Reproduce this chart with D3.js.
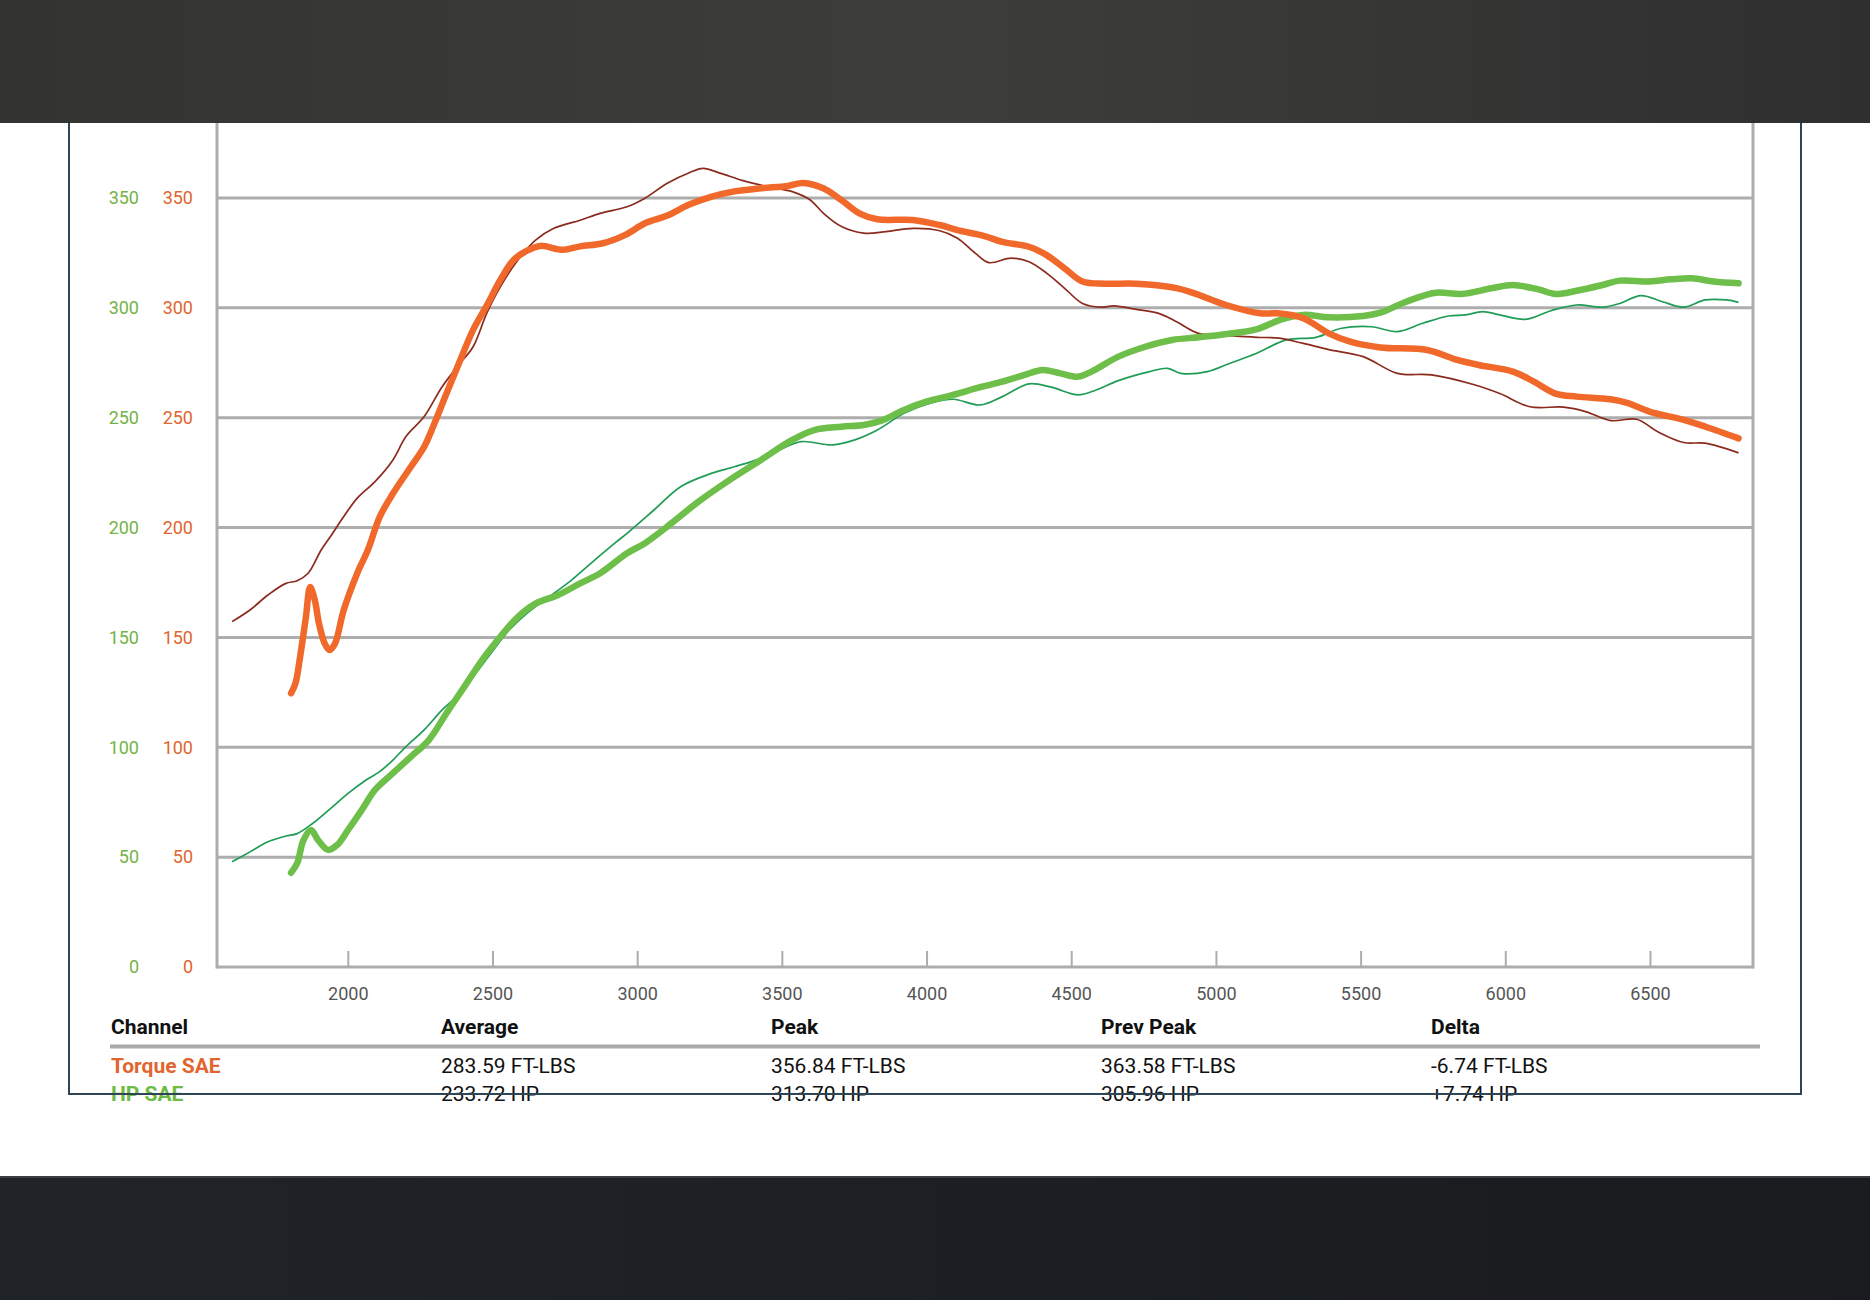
<!DOCTYPE html>
<html>
<head>
<meta charset="utf-8">
<script src="https://cdn.jsdelivr.net/npm/d3@7"></script>
<style>
  html, body { margin: 0; padding: 0; background: #ffffff; }
  svg { display: block; }
  text { font-family: Roboto, "Noto Sans", "DejaVu Sans", sans-serif; }
</style>
</head>
<body>
<svg id="chart" width="1870" height="1300"></svg>
<script>
// ---------------- DATA ----------------
const xTicks = [2000, 2500, 3000, 3500, 4000, 4500, 5000, 5500, 6000, 6500];
const yTicks = [0, 50, 100, 150, 200, 250, 300, 350];

// Current torque (thick orange)
const torqueRpm = [1804,1819,1835,1855,1870,1886,1901,1921,1937,1955,1986,2032,2070,2110,2156,2218,2264,2295,2341,2388,2433,2480,2527,2573,2619,2665,2743,2803,2882,2959,3027,3104,3180,3258,3336,3428,3521,3574,3643,3706,3768,3830,3953,4045,4107,4200,4262,4354,4415,4477,4539,4617,4724,4864,4926,5035,5154,5213,5302,5390,5464,5568,5730,5834,5908,6026,6099,6173,6247,6364,6424,6498,6617,6690,6806];
const torqueVal = [124.6,129,141,159,173,167,156,147,144.3,147,162.5,179,190,204.8,215.5,227.7,236.8,246,261,276,290,301,312.7,321.8,326,328.2,326.4,328,329.4,333.2,338.5,342,347,350.6,353,354.4,355.5,356.8,354.4,349,343,340.3,340,337.7,335.4,332.7,330,327.8,324,318,312,311,311,309,306.6,301.3,297.5,297.5,295.3,288.4,284.6,282,280.8,276.3,274,271,266.4,261,259.6,258.4,256.6,252.8,249,246,240.6];

// Previous torque (thin dark red)
const prevTorqueRpm = [1600,1662,1724,1786,1825,1863,1908,1940,1986,2032,2094,2156,2201,2264,2326,2388,2433,2480,2527,2588,2650,2712,2803,2872,2965,3027,3104,3180,3227,3289,3366,3459,3536,3598,3644,3706,3783,3860,3953,4046,4107,4169,4215,4292,4354,4416,4477,4539,4601,4648,4725,4802,4864,4940,5033,5141,5219,5302,5390,5509,5627,5745,5893,5981,6085,6202,6277,6365,6454,6527,6617,6690,6806];
const prevTorqueVal = [157.2,162.5,169.3,174.6,175.8,179.2,189.8,195.9,205,213.3,220.9,230.8,241.4,250.5,264.1,274.8,282.3,297.5,309.6,321.8,330.9,336.2,339.9,343,346,349.9,356.7,361.5,363.5,361.2,357.9,354.9,352.9,349.1,343,337,334,334.7,336.2,335.1,331.7,324.8,320.6,322.6,321,315.7,308.9,302,300.3,300.9,299.3,297.5,293.7,288.4,287.5,286.6,286.2,283.8,281,277.8,270.2,269.5,265,261,255,254.8,252.8,248.7,249.3,243.6,238.7,238.4,234];

// Current HP (thick green)
const hpRpm = [1804,1825,1847,1873,1897,1932,1963,2001,2048,2094,2156,2218,2280,2341,2403,2464,2527,2588,2650,2727,2803,2872,2965,3027,3119,3212,3320,3428,3536,3612,3706,3783,3844,3922,3999,4092,4185,4262,4339,4401,4462,4524,4570,4663,4756,4848,4940,5033,5139,5227,5302,5390,5509,5568,5657,5760,5849,5952,6026,6114,6173,6247,6336,6395,6498,6572,6645,6720,6806];
const hpVal = [42.9,47.2,57.8,62.4,57.8,53.3,55.5,62.4,71.4,80.6,88.2,95.7,103.3,115.5,127.6,139.7,150.3,159.4,165.5,169.3,174.6,179.2,188.3,192.9,202,211.8,221.7,230.8,239.9,244.4,245.9,246.7,248.7,253.5,257.3,260.4,263.9,266.4,269.5,271.7,270.2,268.7,271,277.8,282.3,285.4,286.6,288,290.2,294.8,296.8,295.7,296.3,297.8,302.8,306.9,306.3,308.9,310.4,308.4,306.3,307.8,310.4,312.4,312,313,313.5,312,311.2];

// Previous HP (thin green)
const prevHpRpm = [1600,1662,1724,1786,1825,1878,1940,2001,2063,2110,2156,2201,2264,2326,2388,2433,2495,2558,2619,2696,2772,2851,2928,2965,3058,3150,3242,3336,3412,3490,3567,3675,3752,3830,3922,4013,4092,4185,4262,4354,4431,4524,4586,4663,4771,4833,4879,4971,5049,5141,5243,5346,5434,5538,5627,5715,5804,5863,5922,5981,6070,6158,6247,6336,6395,6469,6543,6617,6690,6764,6806];
const prevHpVal = [47.9,52.4,57,59.6,60.7,65.3,72.1,79,85.1,88.9,94.2,100.3,107.9,117,124.6,132.1,142.8,153.4,161,168.5,176,185,193.5,197.4,208,218.6,224,227.7,230.8,235.3,239.1,237.6,239.9,244.4,252,256.6,258.4,255.8,259.6,265.4,263.9,260.4,262.6,266.9,271,272.5,270.2,271,274.8,279.3,285.4,286.6,290.7,291.4,289.2,293,296.3,296.8,298.3,296.8,294.8,298.7,301.3,300.3,302,305.6,302.8,300.3,303.6,303.6,302.5];

// Summary table
const tableColumns = ["Channel", "Average", "Peak", "Prev Peak", "Delta"];
const tableChannels = ["Torque SAE", "HP SAE"];
const tableAverage = ["283.59 FT-LBS", "233.72 HP"];
const tablePeak = ["356.84 FT-LBS", "313.70 HP"];
const tablePrevPeak = ["363.58 FT-LBS", "305.96 HP"];
const tableDelta = ["-6.74 FT-LBS", "+7.74 HP"];

// ---------------- DRAW ----------------
const svg = d3.select("#chart");
const W = 1870, H = 1300;

const C = {
  orange: "#f0692b", darkRed: "#8b2b1d", green: "#6dbf4a", thinGreen: "#1f9c55",
  labelGreen: "#74b347", labelOrange: "#e0652f", grid: "#adadad", frame: "#2e4556"
};

const x = d3.scaleLinear().domain([1548, 6856]).range([217, 1753]);
const y = d3.scaleLinear().domain([0, 350]).range([967, 198]);

const defs = svg.append("defs");
const gTop = defs.append("linearGradient").attr("id", "gTop");
gTop.append("stop").attr("offset", "0%").attr("stop-color", "#333331");
gTop.append("stop").attr("offset", "50%").attr("stop-color", "#3d3d3b");
gTop.append("stop").attr("offset", "100%").attr("stop-color", "#2f2f2f");
const gBot = defs.append("linearGradient").attr("id", "gBot");
gBot.append("stop").attr("offset", "0%").attr("stop-color", "#202328");
gBot.append("stop").attr("offset", "50%").attr("stop-color", "#1c1f23");
gBot.append("stop").attr("offset", "100%").attr("stop-color", "#191b1e");

svg.append("rect").attr("width", W).attr("height", H).attr("fill", "#ffffff");

// gridlines (including baseline)
svg.append("g").selectAll("line").data(yTicks).join("line")
  .attr("x1", x.range()[0]).attr("x2", x.range()[1])
  .attr("y1", d => y(d)).attr("y2", d => y(d))
  .attr("stroke", C.grid).attr("stroke-width", 3);

// vertical plot borders
svg.append("g").selectAll("line").data(x.range()).join("line")
  .attr("x1", d => d).attr("x2", d => d)
  .attr("y1", 110).attr("y2", y(0) + 1.5)
  .attr("stroke", C.grid).attr("stroke-width", 3);

// x axis
const xAxis = svg.append("g").attr("transform", `translate(0,${y(0)})`)
  .call(d3.axisBottom(x).tickValues(xTicks).tickFormat(d3.format("d"))
    .tickSizeInner(-16).tickSizeOuter(0).tickPadding(20));
xAxis.select(".domain").remove();
xAxis.selectAll(".tick line").attr("stroke", C.grid).attr("stroke-width", 2);
xAxis.selectAll(".tick text").attr("fill", "#555").attr("font-size", 18)
  .attr("font-family", "Roboto, sans-serif");

// y axes (green HP, orange torque)
function yAxisAt(px, color) {
  const g = svg.append("g").attr("transform", `translate(${px},0)`)
    .call(d3.axisLeft(y).tickValues(yTicks).tickSize(0).tickPadding(0));
  g.select(".domain").remove();
  g.selectAll(".tick text").attr("fill", color).attr("font-size", 18)
    .attr("font-family", "Roboto, sans-serif");
}
yAxisAt(139, C.labelGreen);
yAxisAt(193, C.labelOrange);

// lines
const line = d3.line().x(d => x(d[0])).y(d => y(d[1])).curve(d3.curveCatmullRom.alpha(0.5));
const zip = (a, b) => a.map((v, i) => [v, b[i]]);

svg.append("path").datum(zip(prevHpRpm, prevHpVal)).attr("d", line)
  .attr("fill", "none").attr("stroke", C.thinGreen).attr("stroke-width", 1.7);
svg.append("path").datum(zip(prevTorqueRpm, prevTorqueVal)).attr("d", line)
  .attr("fill", "none").attr("stroke", C.darkRed).attr("stroke-width", 1.7);
svg.append("path").datum(zip(hpRpm, hpVal)).attr("d", line)
  .attr("fill", "none").attr("stroke", C.green).attr("stroke-width", 6.5)
  .attr("stroke-linecap", "round").attr("stroke-linejoin", "round");
svg.append("path").datum(zip(torqueRpm, torqueVal)).attr("d", line)
  .attr("fill", "none").attr("stroke", C.orange).attr("stroke-width", 6.5)
  .attr("stroke-linecap", "round").attr("stroke-linejoin", "round");

// table
const colX = [111, 441, 771, 1101, 1431];
const tbl = svg.append("g");
tbl.selectAll("text.head").data(tableColumns).join("text").attr("class", "head")
  .attr("x", (d, i) => colX[i]).attr("y", 1034)
  .attr("font-size", 21).attr("font-weight", 700).attr("fill", "#111").text(d => d);
tbl.append("line").attr("x1", 110).attr("x2", 1760).attr("y1", 1046.5).attr("y2", 1046.5)
  .attr("stroke", "#aaaaaa").attr("stroke-width", 4);
const rowY = [1073, 1101];
const rowColor = [C.labelOrange, "#6dbb45"];
const rows = tableChannels.map((c, i) => [c, tableAverage[i], tablePeak[i], tablePrevPeak[i], tableDelta[i]]);
rows.forEach((r, ri) => {
  tbl.selectAll(null).data(r).join("text")
    .attr("x", (d, i) => colX[i]).attr("y", rowY[ri])
    .attr("font-size", 21)
    .attr("font-weight", (d, i) => i === 0 ? 700 : 400)
    .attr("fill", (d, i) => i === 0 ? rowColor[ri] : "#111")
    .text(d => d);
});

// outer frame (drawn over the last row like the original)
svg.append("path")
  .attr("d", `M69,100 L69,1094 L1801,1094 L1801,100`)
  .attr("fill", "none").attr("stroke", C.frame).attr("stroke-width", 2);

// dark bands
svg.append("rect").attr("x", 0).attr("y", 0).attr("width", W).attr("height", 123).attr("fill", "url(#gTop)");
svg.append("rect").attr("x", 0).attr("y", 1176).attr("width", W).attr("height", 124).attr("fill", "url(#gBot)");
svg.append("line").attr("x1", 0).attr("x2", W).attr("y1", 1177).attr("y2", 1177)
  .attr("stroke", "#3a3d41").attr("stroke-width", 2);
</script>
</body>
</html>
